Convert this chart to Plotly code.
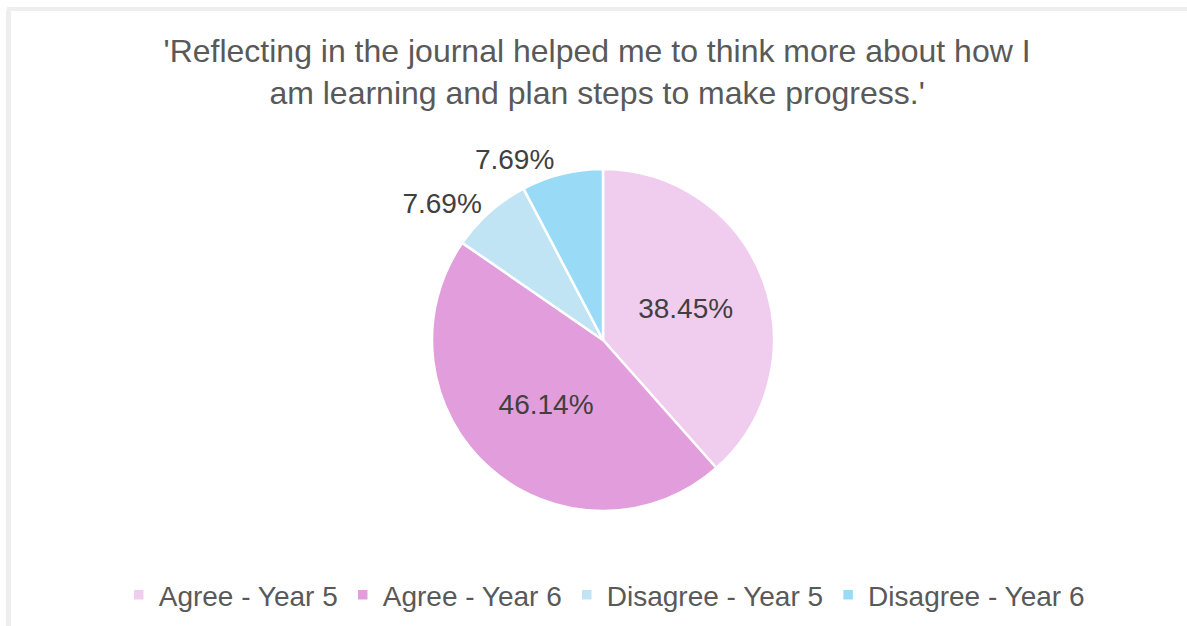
import plotly.graph_objects as go

# Survey responses (share of pupils, %)
categories = ["Agree - Year 5", "Agree - Year 6", "Disagree - Year 5", "Disagree - Year 6"]
shares = [38.45, 46.14, 7.69, 7.69]
colors = ["#f0cdee", "#e29ddc", "#c0e4f4", "#99dbf6"]
label_positions = ["inside", "inside", "outside", "outside"]

title_text = ("'Reflecting in the journal helped me to think more about how I<br>"
              "am learning and plan steps to make progress.'")

W, H = 1187, 626
FONT = "Liberation Sans, Arial, Helvetica, sans-serif"
TEXT_GREY = "#595959"

fig = go.Figure(
    go.Pie(
        labels=categories,
        values=shares,
        sort=False,
        direction="clockwise",
        rotation=0,
        marker=dict(colors=colors, line=dict(color="white", width=2.5)),
        texttemplate="%{value:.2f}%",
        textposition=label_positions,
        insidetextorientation="horizontal",
        textfont=dict(family=FONT, size=28, color="#404040"),
        hoverinfo="label+value",
        domain=dict(x=[0.2, 0.816], y=[1 - 511 / H, 1 - 169 / H]),
    )
)

# thin grey frame along the top and left edges
fig.add_shape(type="rect", xref="paper", yref="paper",
              x0=7 / W, x1=1, y0=1 - 11 / H, y1=1 - 7 / H,
              fillcolor="#eeeeee", line=dict(width=0), layer="below")
fig.add_shape(type="rect", xref="paper", yref="paper",
              x0=6 / W, x1=11 / W, y0=0, y1=1 - 10 / H,
              fillcolor="#eeeeee", line=dict(width=0), layer="below")

fig.update_layout(
    width=W,
    height=H,
    margin=dict(l=0, r=0, t=0, b=0),
    paper_bgcolor="white",
    plot_bgcolor="white",
    title=dict(text=title_text, x=0.503, xanchor="center",
               y=1 - 62 / H, yanchor="middle",
               font=dict(family=FONT, size=32, color=TEXT_GREY)),
    showlegend=True,
    legend=dict(orientation="h", x=0.1, xanchor="left",
                y=1 - 595 / H, yanchor="middle",
                font=dict(family=FONT, size=28, color=TEXT_GREY),
                traceorder="normal"),
)

fig.write_html("out.html")
